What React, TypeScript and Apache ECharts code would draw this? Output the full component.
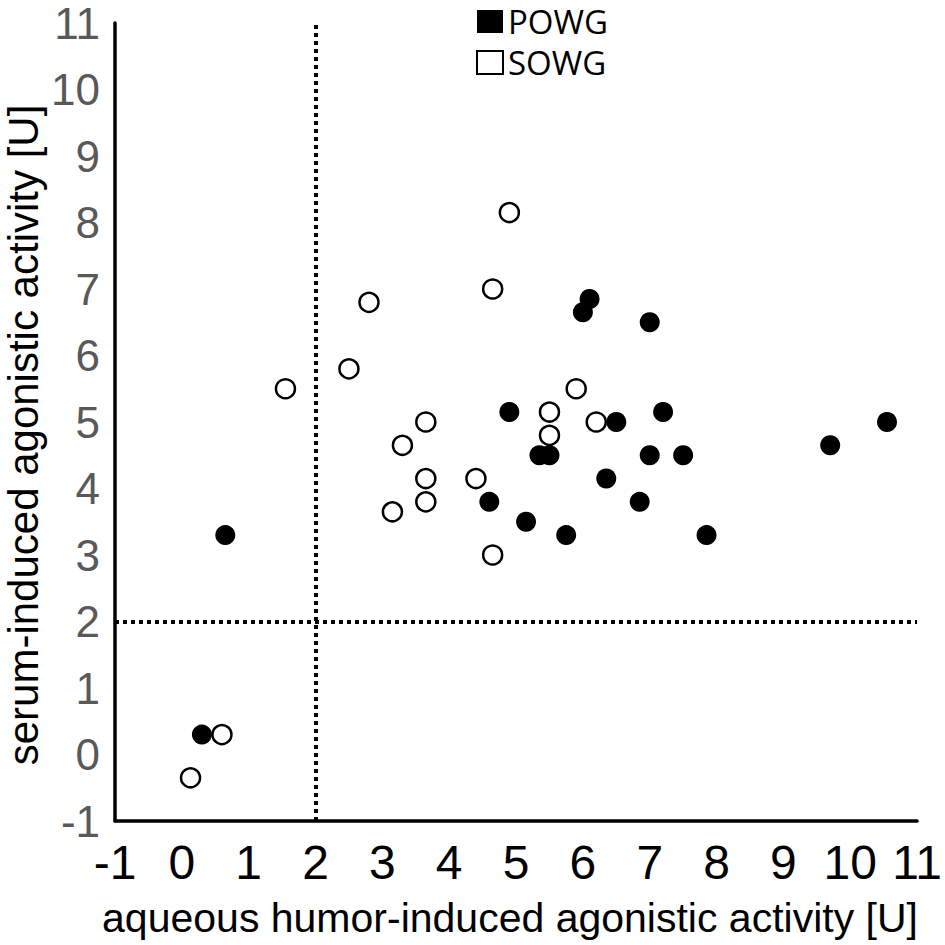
import React, { useEffect, useRef } from "react";
import * as echarts from "echarts";

const xTickMin = -1;
const xTickMax = 11;
const yTickMin = -1;
const yTickMax = 11;
const thresholdX = 2;
const thresholdY = 2;

const powgX = [0.3, 0.65, 4.6, 4.9, 5.15, 5.35, 5.5, 5.75, 6.0, 6.1, 6.35, 6.5, 6.85, 7.0, 7.0, 7.2, 7.5, 7.85, 9.7, 10.55];
const powgY = [0.3, 3.3, 3.8, 5.15, 3.5, 4.5, 4.5, 3.3, 6.65, 6.85, 4.15, 5.0, 3.8, 6.5, 4.5, 5.15, 4.5, 3.3, 4.65, 5.0];

const sowgX = [0.13, 0.6, 1.55, 2.5, 2.8, 3.15, 3.3, 3.65, 3.65, 3.65, 4.4, 4.65, 4.65, 4.9, 5.5, 5.5, 5.9, 6.2];
const sowgY = [-0.35, 0.3, 5.5, 5.8, 6.8, 3.65, 4.65, 5.0, 4.15, 3.8, 4.15, 3.0, 7.0, 8.15, 5.15, 4.8, 5.5, 5.0];

const seriesNames = ["POWG", "SOWG"];
const xTitle = "aqueous humor-induced agonistic activity [U]";
const yTitle = "serum-induced agonistic activity [U]";

const zip = (xs: number[], ys: number[]) => xs.map((x, i) => [x, ys[i]]);

export default function App() {
  const ref = useRef<HTMLDivElement>(null);
  useEffect(() => {
    const chart = echarts.init(ref.current as HTMLDivElement, null, { renderer: "svg" });
    chart.setOption({
      animation: false,
      backgroundColor: "#ffffff",
      grid: { left: 115, right: 21, top: 23, bottom: 124, containLabel: false },
      legend: {
        orient: "vertical",
        left: 471,
        top: 0,
        icon: "rect",
        itemWidth: 26,
        itemHeight: 23,
        itemGap: 8,
        selectedMode: false,
        textStyle: { fontSize: 33, fontFamily: "Open Sans", color: "#000" },
        data: seriesNames,
      },
      xAxis: {
        type: "value",
        min: xTickMin,
        max: xTickMax,
        interval: 1,
        axisLine: { show: true, onZero: false, lineStyle: { color: "#000", width: 3.5 } },
        axisTick: { show: false },
        splitLine: { show: false },
        axisLabel: { fontSize: 48, fontFamily: "Liberation Sans", color: "#000", margin: 17 },
      },
      yAxis: {
        type: "value",
        min: yTickMin,
        max: yTickMax,
        interval: 1,
        axisLine: { show: true, onZero: false, lineStyle: { color: "#000", width: 3.5 } },
        axisTick: { show: false },
        splitLine: { show: false },
        axisLabel: { fontSize: 44, fontFamily: "Liberation Sans", color: "#595959", margin: 15, lineHeight: 36 },
      },
      graphic: [
        {
          type: "text",
          x: 510,
          y: 918,
          style: {
            text: xTitle,
            fontSize: 41,
            fontFamily: "Liberation Sans",
            fill: "#000",
            textAlign: "center",
            textVerticalAlign: "middle",
          },
        },
        {
          type: "text",
          x: 23,
          y: 435,
          rotation: Math.PI / 2,
          style: {
            text: yTitle,
            fontSize: 42,
            fontFamily: "Liberation Sans",
            fill: "#000",
            textAlign: "center",
            textVerticalAlign: "middle",
          },
        },
      ],
      series: [
        {
          name: seriesNames[1],
          type: "scatter",
          symbol: "circle",
          symbolSize: 19,
          itemStyle: { color: "#ffffff", borderColor: "#000", borderWidth: 2.5, opacity: 1 },
          data: zip(sowgX, sowgY),
          z: 3,
        },
        {
          name: seriesNames[0],
          type: "scatter",
          symbol: "circle",
          symbolSize: 20,
          itemStyle: { color: "#000", borderColor: "#000", borderWidth: 0, opacity: 1 },
          data: zip(powgX, powgY),
          z: 4,
          markLine: {
            silent: true,
            symbol: ["none", "none"],
            label: { show: false },
            lineStyle: { color: "#000", width: 4, type: [4, 4], opacity: 1 },
            emphasis: { disabled: true },
            data: [{ xAxis: thresholdX }, { yAxis: thresholdY }],
          },
        },
      ],
    });
    return () => chart.dispose();
  }, []);
  return (
    <div
      ref={ref}
      style={{ position: "fixed", left: 0, top: 0, width: 945, height: 945, background: "#fff" }}
    />
  );
}
